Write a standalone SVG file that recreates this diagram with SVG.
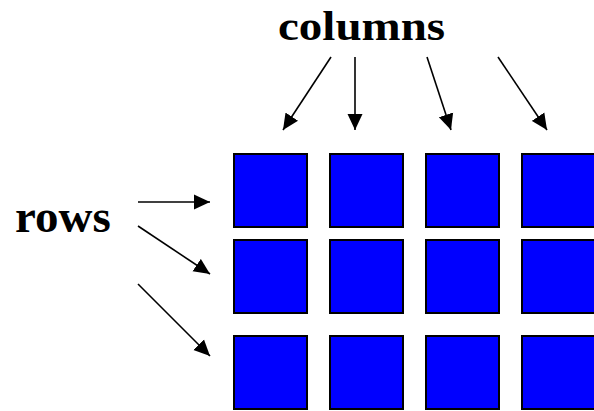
<svg xmlns="http://www.w3.org/2000/svg" width="594" height="411" viewBox="0 0 594 411">
<style>
.cell{fill:#0000ff;stroke:#000;stroke-width:2}
.lbl{font-family:"Liberation Serif","Times New Roman",serif;font-weight:bold;font-size:47px;fill:#000}
.arr{stroke:#000;stroke-width:1.6;fill:none;marker-end:url(#ah)}
</style>
<defs>
<marker id="ah" markerUnits="userSpaceOnUse" markerWidth="18" markerHeight="16" refX="16" refY="7.5" orient="auto" viewBox="0 0 18 15">
<path d="M0,0 L16,7.5 L0,15 Z" fill="#000"/>
</marker>
</defs>
<rect width="594" height="411" fill="#fff"/>
<g id="label-columns" transform="translate(278,40) scale(1,0.9)"><text class="lbl" x="0" y="0">columns</text></g>
<g id="label-rows"><text class="lbl" x="15" y="232">rows</text></g>
<g id="cell-r1c1"><rect class="cell" x="234" y="154" width="73" height="73"/></g>
<g id="cell-r1c2"><rect class="cell" x="330" y="154" width="73" height="73"/></g>
<g id="cell-r1c3"><rect class="cell" x="426" y="154" width="73" height="73"/></g>
<g id="cell-r1c4"><rect class="cell" x="522" y="154" width="73" height="73"/></g>
<g id="cell-r2c1"><rect class="cell" x="234" y="240" width="73" height="73"/></g>
<g id="cell-r2c2"><rect class="cell" x="330" y="240" width="73" height="73"/></g>
<g id="cell-r2c3"><rect class="cell" x="426" y="240" width="73" height="73"/></g>
<g id="cell-r2c4"><rect class="cell" x="522" y="240" width="73" height="73"/></g>
<g id="cell-r3c1"><rect class="cell" x="234" y="336" width="73" height="73"/></g>
<g id="cell-r3c2"><rect class="cell" x="330" y="336" width="73" height="73"/></g>
<g id="cell-r3c3"><rect class="cell" x="426" y="336" width="73" height="73"/></g>
<g id="cell-r3c4"><rect class="cell" x="522" y="336" width="73" height="73"/></g>
<g id="connectors">
<line class="arr" x1="331" y1="57" x2="283" y2="130"/>
<line class="arr" x1="355" y1="57" x2="355" y2="130"/>
<line class="arr" x1="427" y1="57" x2="451" y2="130"/>
<line class="arr" x1="498" y1="57" x2="547" y2="130"/>
<line class="arr" x1="138" y1="202" x2="210" y2="202"/>
<line class="arr" x1="138" y1="226" x2="210" y2="274"/>
<line class="arr" x1="138" y1="284" x2="210" y2="356"/>
</g>
</svg>
